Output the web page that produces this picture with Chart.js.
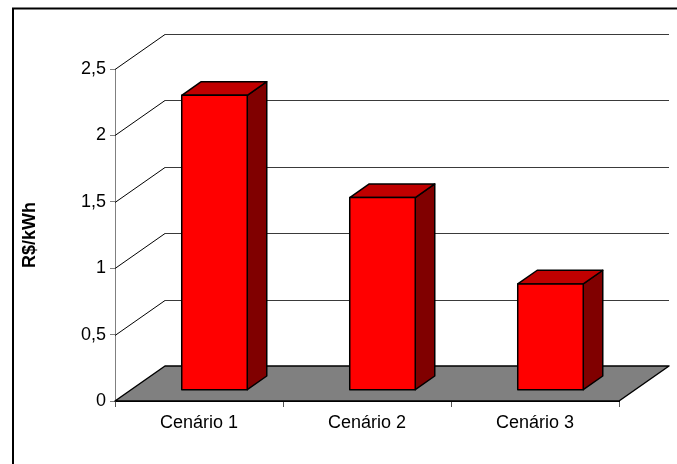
<!DOCTYPE html>
<html>
<head>
<meta charset="utf-8">
<script src="https://cdn.jsdelivr.net/npm/chart.js@4.4.1/dist/chart.umd.min.js"></script>
<style>
  html, body { margin: 0; padding: 0; background: #fff; }
  #wrap { width: 677px; height: 464px; position: relative; }
</style>
</head>
<body>
<div id="wrap"><canvas id="grafico"></canvas></div>
<script>
// Dados do gráfico
const cenarios = ['Cenário 1', 'Cenário 2', 'Cenário 3'];
const custoKWh = [2.22, 1.45, 0.80];
const ticksY = [0, 0.5, 1, 1.5, 2, 2.5];
const tituloY = 'R$/kWh';

// Profundidade do efeito 3D (estilo Excel)
const PROF_X = 50;
const PROF_Y = -35;
const FRENTE_BARRA = 0.31;
const FUNDO_BARRA = 0.70;

function poligono(ctx, pts, fill, stroke, lw) {
  ctx.beginPath();
  ctx.moveTo(pts[0][0], pts[0][1]);
  for (let i = 1; i < pts.length; i++) ctx.lineTo(pts[i][0], pts[i][1]);
  ctx.closePath();
  if (fill) { ctx.fillStyle = fill; ctx.fill(); }
  if (stroke) { ctx.strokeStyle = stroke; ctx.lineWidth = lw; ctx.lineJoin = 'round'; ctx.stroke(); }
}

const efeito3D = {
  id: 'efeito3D',
  beforeDraw(chart) {
    const ctx = chart.ctx;
    ctx.save();
    ctx.strokeStyle = '#000';
    ctx.lineWidth = 2;
    ctx.strokeRect(13, 8.5, 720, 520);
    ctx.restore();
  },
  beforeDatasetsDraw(chart) {
    const ctx = chart.ctx;
    const { left, right } = chart.chartArea;
    const yS = chart.scales.y;
    const base = yS.getPixelForValue(0);
    ctx.save();

    // parede do fundo e parede lateral
    ctx.lineWidth = 1;
    ticksY.forEach(v => {
      const y = Math.round(yS.getPixelForValue(v)) + 0.5;
      if (v > 0) {
        ctx.strokeStyle = '#3a3a3a';
        ctx.beginPath();
        ctx.moveTo(left + PROF_X, y + PROF_Y);
        ctx.lineTo(right + PROF_X, y + PROF_Y);
        ctx.stroke();
        ctx.strokeStyle = '#000';
        ctx.beginPath();
        ctx.moveTo(left, y);
        ctx.lineTo(left + PROF_X, y + PROF_Y);
        ctx.stroke();
      }
    });

    // piso
    poligono(ctx, [
      [left, base], [right, base],
      [right + PROF_X, base + PROF_Y], [left + PROF_X, base + PROF_Y]
    ], '#808080', '#000', 1.5);

    // barras
    const meta = chart.getDatasetMeta(0);
    meta.data.forEach(bar => {
      const x0 = bar.x - bar.width / 2 + FRENTE_BARRA * PROF_X;
      const x1 = bar.x + bar.width / 2 + FRENTE_BARRA * PROF_X;
      const yt = bar.y + FRENTE_BARRA * PROF_Y;
      const yb = bar.base + FRENTE_BARRA * PROF_Y;
      const dx = (FUNDO_BARRA - FRENTE_BARRA) * PROF_X;
      const dy = (FUNDO_BARRA - FRENTE_BARRA) * PROF_Y;
      // lateral
      poligono(ctx, [[x1, yt], [x1 + dx, yt + dy], [x1 + dx, yb + dy], [x1, yb]], '#800000', '#000', 1.5);
      // topo
      poligono(ctx, [[x0, yt], [x0 + dx, yt + dy], [x1 + dx, yt + dy], [x1, yt]], '#c00000', '#000', 1.5);
      // frente
      poligono(ctx, [[x0, yt], [x1, yt], [x1, yb], [x0, yb]], '#ff0000', '#000', 1.5);
    });
    ctx.restore();
  }
};

new Chart(document.getElementById('grafico'), {
  type: 'bar',
  data: {
    labels: cenarios,
    datasets: [{
      data: custoKWh,
      backgroundColor: 'rgba(0,0,0,0)',
      borderWidth: 0,
      categoryPercentage: 1,
      barPercentage: 0.39
    }]
  },
  options: {
    responsive: true,
    maintainAspectRatio: false,
    animation: false,
    layout: { padding: { left: 0, top: 69, right: 58, bottom: 0 } },
    plugins: { legend: { display: false }, tooltip: { enabled: false } },
    scales: {
      x: {
        afterFit: s => { s.height = 63; },
        grid: { drawOnChartArea: false, drawTicks: true, tickLength: 6, color: '#555' },
        border: { display: true, color: '#000' },
        ticks: { color: '#000', padding: 5, font: { family: 'Liberation Sans', size: 18 } }
      },
      y: {
        min: 0,
        max: 2.5,
        afterFit: s => { s.width = 115; },
        afterBuildTicks: s => { s.ticks = ticksY.map(v => ({ value: v })); },
        grid: { drawOnChartArea: false, drawTicks: true, tickLength: 5, color: '#808080' },
        border: { display: true, color: '#808080' },
        ticks: {
          color: '#000',
          padding: 4,
          font: { family: 'Liberation Sans', size: 18 },
          callback: v => String(v).replace('.', ',')
        },
        title: {
          display: true,
          text: tituloY,
          color: '#000',
          padding: { top: 19, bottom: 0 },
          font: { family: 'Liberation Sans', size: 18, weight: 'bold' }
        }
      }
    }
  },
  plugins: [efeito3D]
});
</script>
</body>
</html>
